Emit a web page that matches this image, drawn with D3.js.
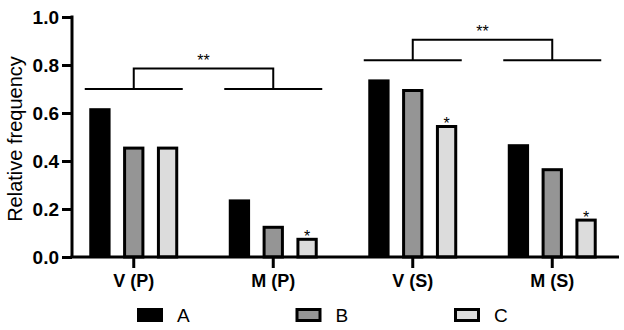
<!DOCTYPE html>
<html>
<head>
<meta charset="utf-8">
<script src="https://cdn.jsdelivr.net/npm/d3@7"></script>
<style>
  body { margin: 0; background: #fff; }
  svg { font-family: 'Liberation Sans', Arial, sans-serif; }
</style>
</head>
<body>
<div id="chart"></div>
<script>
// data
const categories = ['V (P)', 'M (P)', 'V (S)', 'M (S)'];
const seriesNames = ['A', 'B', 'C'];
const valuesA = [0.62, 0.24, 0.74, 0.47];
const valuesB = [0.46, 0.13, 0.70, 0.37];
const valuesC = [0.46, 0.08, 0.55, 0.16];
const starredC = [false, true, true, true];
const yTicks = [0, 0.2, 0.4, 0.6, 0.8, 1.0];
// significance brackets: [left category, right category, base level, top level]
const brackets = [
    ['V (P)', 'M (P)', 0.7, 0.785],
    ['V (S)', 'M (S)', 0.82, 0.905]
];

const width = 624;
const height = 330;
const fills = ['#000', '#959595', '#dcdcdc'];

const svg = d3
    .select('#chart')
    .append('svg')
    .attr('width', width)
    .attr('height', height)
    .attr('viewBox', [0, 0, width, height]);

// scales
const x = d3.scaleBand().domain(categories).range([64, 622]).padding(0);
const xSub = d3.scaleBand().domain(seriesNames).range([-57, 57]).padding(0.37);
const y = d3.scaleLinear().domain([0, 1]).range([257, 17]);
const axisLeft = 72;

const table = categories.map((c, i) => ({
    cat: c,
    vals: [valuesA[i], valuesB[i], valuesC[i]]
}));

// bars
const groups = svg
    .selectAll('g.cat')
    .data(table)
    .join('g')
    .attr('class', 'cat')
    .attr('transform', (d) => `translate(${x(d.cat) + x.bandwidth() / 2},0)`);

groups
    .selectAll('rect')
    .data((d) => d.vals.map((v, k) => ({ key: seriesNames[k], v, k })))
    .join('rect')
    .attr('x', (d) => xSub(d.key) + (d.k ? 1.5 : 0))
    .attr('width', (d) => xSub.bandwidth() - (d.k ? 3 : 0))
    .attr('y', (d) => y(d.v) + (d.k ? 1.5 : 0))
    .attr('height', (d) => y(0) - y(d.v) - (d.k ? 1.5 : 0))
    .attr('fill', (d) => fills[d.k])
    .attr('stroke', (d) => (d.k ? '#000' : 'none'))
    .attr('stroke-width', 3);

// stars on C
groups
    .filter((d, i) => starredC[i])
    .append('text')
    .attr('x', xSub('C') + xSub.bandwidth() / 2)
    .attr('y', (d) => y(d.vals[2]) + 4)
    .attr('text-anchor', 'middle')
    .attr('font-size', 16)
    .attr('fill', '#000')
    .text('*');

// y axis
const yAxisG = svg
    .append('g')
    .attr('transform', `translate(${axisLeft},0)`)
    .call(d3.axisLeft(y).tickValues(yTicks).tickFormat(d3.format('.1f')).tickSize(10).tickPadding(3));
yAxisG.select('.domain').attr('stroke-width', 3).attr('d', `M0,${y(1) - 1.5}V${y(0)}`);
yAxisG.selectAll('.tick line').attr('stroke-width', 3);
yAxisG.selectAll('.tick text').attr('font-size', 19).attr('font-weight', 'bold').attr('fill', '#000');

// x axis
const xAxisG = svg
    .append('g')
    .attr('transform', `translate(0,${y(0)})`)
    .call(d3.axisBottom(x).tickSize(11).tickPadding(6));
xAxisG.select('.domain').attr('stroke-width', 3).attr('d', `M${axisLeft - 1.5},0H619`);
xAxisG.selectAll('.tick line').attr('stroke-width', 3);
xAxisG.selectAll('.tick text').attr('font-size', 18).attr('font-weight', 'bold').attr('fill', '#000');

// y title
svg.append('text')
    .attr('transform', `translate(22,${(y(0) + y(1)) / 2 + 2}) rotate(-90)`)
    .attr('text-anchor', 'middle')
    .attr('font-size', 20)
    .text('Relative frequency');

// significance brackets
const half = 49;
brackets.forEach(([c1, c2, base, top]) => {
    const cx1 = x(c1) + x.bandwidth() / 2;
    const cx2 = x(c2) + x.bandwidth() / 2;
    const g = svg.append('g').attr('stroke', '#000').attr('stroke-width', 2).attr('fill', 'none');
    g.append('path').attr('d', `M${cx1 - half},${y(base)}H${cx1 + half}`);
    g.append('path').attr('d', `M${cx2 - half},${y(base)}H${cx2 + half}`);
    g.append('path').attr('d', `M${cx1},${y(base)}V${y(top)}H${cx2}V${y(base)}`);
    svg.append('text')
        .attr('x', (cx1 + cx2) / 2)
        .attr('y', y(top) - 3)
        .attr('text-anchor', 'middle')
        .attr('font-size', 16)
        .attr('fill', '#000')
        .text('**');
});

// legend
const legendX = d3.scalePoint().domain(seriesNames).range([137, 454]);
const legend = svg
    .selectAll('g.legend')
    .data(seriesNames)
    .join('g')
    .attr('class', 'legend')
    .attr('transform', (d) => `translate(${legendX(d)},315)`);
legend
    .append('rect')
    .attr('x', (d, i) => (i ? 1.5 : 0))
    .attr('y', (d, i) => -7 + (i ? 1.5 : 0))
    .attr('width', (d, i) => 26 - (i ? 3 : 0))
    .attr('height', (d, i) => 14 - (i ? 3 : 0))
    .attr('fill', (d, i) => fills[i])
    .attr('stroke', (d, i) => (i ? '#000' : 'none'))
    .attr('stroke-width', 3);
legend
    .append('text')
    .attr('x', 40)
    .attr('y', 7)
    .attr('font-size', 19)
    .attr('fill', '#000')
    .text((d) => d);
</script>
</body>
</html>
